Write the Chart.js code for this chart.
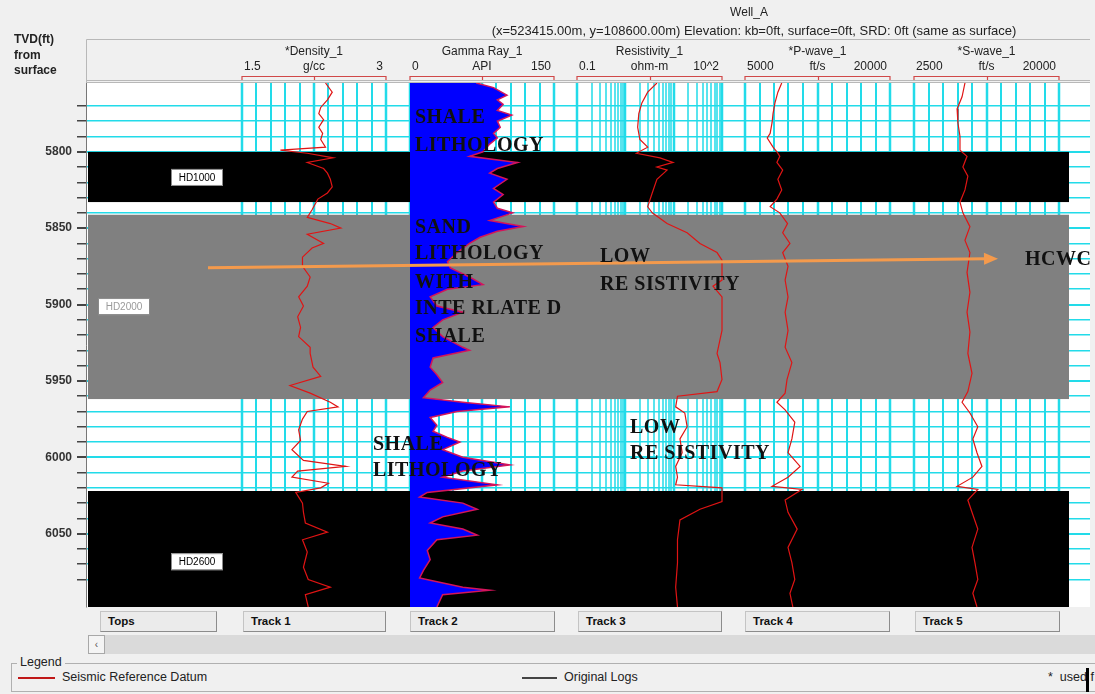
<!DOCTYPE html>
<html>
<head>
<meta charset="utf-8">
<title>Well_A</title>
<script src="https://cdn.jsdelivr.net/npm/chart.js@4.4.1/dist/chart.umd.min.js"></script>
<style>
  html, body { margin: 0; padding: 0; background: #f0f0f0; }
  body { width: 1095px; height: 694px; overflow: hidden; position: relative; font-family: "Liberation Sans", Arial, sans-serif; }
  #logChart { position: absolute; left: 0; top: 0; }
  .btn {
    position: absolute; top: 611px; height: 21px; box-sizing: border-box;
    background: #ebebeb; border: 1px solid #c4c4c4; border-right-color: #8c8c8c; border-bottom-color: #8c8c8c;
    font: bold 11.5px "Liberation Sans", Arial, sans-serif; color: #111; line-height: 19px; padding-left: 7px;
  }
  #scrollLeft { position: absolute; left: 88px; top: 635px; width: 17px; height: 19px; box-sizing: border-box; background: #f4f4f4; border: 1px solid #a8a8a8; font: 10px Arial; color: #555; text-align: center; line-height: 17px; }
  #scrollBar { position: absolute; left: 105px; top: 635px; width: 990px; height: 19px; background: #dadada; }
  #legendBox { position: absolute; left: 11px; top: 663px; width: 1090px; height: 27px; border: 1px solid #b0b0b0; border-right: none; }
  #legendTitle { position: absolute; left: 17px; top: 655px; padding: 0 3px; background: #f0f0f0; font: 12.5px "Liberation Sans", Arial; color: #222; }
  .legLine { position: absolute; top: 677px; height: 2px; }
  .legText { position: absolute; top: 670px; font: 12.5px "Liberation Sans", Arial; color: #222; }
  #endBar { position: absolute; left: 1086px; top: 668px; width: 3px; height: 24px; background: #000; }
</style>
</head>
<body>
<canvas id="logChart" width="1095" height="610"></canvas>

<div class="btn" style="left:100px;width:117px;">Tops</div>
<div class="btn" style="left:243px;width:143px;">Track 1</div>
<div class="btn" style="left:410px;width:145px;">Track 2</div>
<div class="btn" style="left:578px;width:144px;">Track 3</div>
<div class="btn" style="left:745px;width:145px;">Track 4</div>
<div class="btn" style="left:915px;width:145px;">Track 5</div>
<div id="scrollLeft">&lsaquo;</div>
<div id="scrollBar"></div>
<div id="legendBox"></div>
<div id="legendTitle">Legend</div>
<div class="legLine" style="left:18px;width:37px;background:#c01818;"></div>
<div class="legText" style="left:62px;">Seismic Reference Datum</div>
<div class="legLine" style="left:522px;width:35px;background:#444;"></div>
<div class="legText" style="left:564px;">Original Logs</div>
<div class="legText" style="left:1048px;">*&nbsp; used f</div>
<div id="endBar"></div>

<script>
// --- Depth range (TVD ft) ---
const depthTop = 5755;
const depthBottom = 6098;

// --- Formation tops ---
const topsNames = ['HD1000', 'HD2000', 'HD2600'];
const topsTop = [5800, 5841, 6022];
const topsBase = [5833, 5962, 6098];

// --- Track headers ---
const trackNames = ['*Density_1', 'Gamma Ray_1', 'Resistivity_1', '*P-wave_1', '*S-wave_1'];
const trackUnits = ['g/cc', 'API', 'ohm-m', 'ft/s', 'ft/s'];
const trackMin = [1.5, 0, 0.1, 5000, 2500];
const trackMax = [3, 150, 100, 20000, 20000];
const trackMinLabels = ['1.5', '0', '0.1', '5000', '2500'];
const trackMaxLabels = ['3', '150', '10^2', '20000', '20000'];

// --- Logs (depth ft, value) ---
const densityDepth = [5755, 5761, 5766, 5771, 5775, 5779, 5784, 5788, 5792, 5797, 5799, 5801, 5804, 5807, 5811, 5814, 5818, 5823, 5827, 5831, 5838, 5843, 5847, 5850, 5854, 5860, 5863, 5869, 5875, 5882, 5888, 5895, 5901, 5908, 5915, 5921, 5928, 5932, 5941, 5947, 5953, 5958, 5964, 5967, 5970, 5975, 5982, 5989, 5995, 6002, 6006, 6009, 6013, 6017, 6020, 6023, 6030, 6036, 6043, 6049, 6054, 6062, 6072, 6080, 6085, 6090, 6098];
const densityVal = [2.37, 2.44, 2.39, 2.32, 2.30, 2.35, 2.30, 2.34, 2.32, 2.37, 1.90, 2.18, 2.45, 2.18, 2.35, 2.39, 2.42, 2.44, 2.39, 2.29, 2.23, 2.18, 2.42, 2.53, 2.18, 2.35, 2.23, 2.13, 2.13, 2.21, 2.18, 2.09, 2.14, 2.08, 2.11, 2.09, 2.21, 2.21, 2.24, 2.32, 2.00, 2.21, 2.42, 2.50, 2.18, 2.13, 2.09, 2.11, 2.02, 2.14, 2.58, 2.08, 2.02, 2.40, 2.32, 2.06, 2.13, 2.14, 2.16, 2.39, 2.13, 2.18, 2.14, 2.19, 2.42, 2.16, 2.19];

const gammaDepth = [5755, 5758, 5763, 5766, 5769, 5773, 5776, 5780, 5784, 5788, 5791, 5795, 5800, 5803, 5807, 5811, 5814, 5818, 5824, 5828, 5833, 5837, 5840, 5845, 5849, 5852, 5856, 5860, 5866, 5872, 5876, 5882, 5887, 5890, 5895, 5901, 5905, 5910, 5915, 5921, 5928, 5930, 5935, 5941, 5946, 5951, 5956, 5961, 5964, 5967, 5970, 5974, 5979, 5983, 5987, 5990, 5995, 6000, 6005, 6009, 6013, 6018, 6023, 6026, 6030, 6034, 6039, 6043, 6047, 6051, 6054, 6061, 6067, 6074, 6079, 6085, 6087, 6090, 6098];
const gammaVal = [69, 87, 101, 91, 97, 91, 106, 91, 94, 87, 91, 83, 76, 62, 112, 91, 83, 101, 87, 97, 87, 91, 107, 83, 118, 91, 73, 62, 49, 39, 42, 62, 76, 39, 21, 28, 55, 34, 24, 34, 55, 62, 24, 21, 28, 34, 21, 14, 55, 104, 49, 21, 28, 24, 39, 52, 34, 55, 104, 55, 34, 91, 18, 10, 55, 70, 34, 21, 55, 70, 28, 18, 21, 14, 10, 55, 83, 34, 28];

const resDepth = [5755, 5761, 5768, 5775, 5784, 5792, 5797, 5801, 5804, 5807, 5810, 5812, 5818, 5827, 5836, 5840, 5847, 5853, 5860, 5866, 5871, 5884, 5888, 5895, 5917, 5932, 5938, 5949, 5957, 5960, 5967, 5971, 5980, 5988, 5997, 6006, 6013, 6018, 6020, 6029, 6034, 6041, 6054, 6069, 6085, 6098];
const resVal = [4.5, 2.9, 2.2, 1.9, 1.8, 2.0, 2.9, 1.7, 5.2, 9.7, 4.5, 7.3, 4.5, 3.6, 2.9, 3.6, 7.3, 19, 35, 79, 100, 100, 65, 100, 100, 79, 91, 100, 79, 12, 11, 17, 19, 13.5, 15, 11, 12, 11, 100, 100, 35, 13.5, 12, 12, 11, 12];

const pwaveDepth = [5755, 5761, 5768, 5775, 5781, 5788, 5791, 5797, 5800, 5803, 5807, 5812, 5818, 5825, 5831, 5836, 5840, 5847, 5853, 5860, 5866, 5875, 5884, 5895, 5905, 5917, 5928, 5938, 5949, 5958, 5964, 5969, 5977, 5988, 5997, 6006, 6013, 6019, 6021, 6028, 6036, 6047, 6059, 6069, 6080, 6089, 6098];
const pwaveVal = [8800, 8400, 8100, 7900, 7800, 7600, 7300, 7900, 8300, 8600, 8300, 8900, 8400, 8800, 8300, 7600, 8600, 9400, 8900, 9650, 8900, 9450, 9150, 9450, 9150, 9450, 9150, 9850, 9350, 9150, 8300, 9150, 10150, 9850, 9450, 10700, 9450, 7800, 10900, 9150, 9450, 10400, 9450, 9850, 10150, 9650, 9950];

const swaveDepth = [5755, 5764, 5772, 5781, 5790, 5799, 5803, 5810, 5816, 5825, 5833, 5840, 5849, 5858, 5866, 5879, 5892, 5905, 5918, 5932, 5945, 5957, 5964, 5971, 5980, 5988, 5997, 6006, 6013, 6019, 6021, 6028, 6036, 6047, 6059, 6069, 6080, 6089, 6098];
const swaveVal = [8650, 8300, 7700, 7800, 8050, 8050, 8900, 8400, 9000, 8650, 8050, 8400, 9250, 8650, 9250, 8900, 9250, 8900, 9250, 9000, 9500, 9000, 8300, 9250, 10200, 9600, 10100, 10700, 9600, 7700, 10200, 9000, 9500, 10200, 9500, 9850, 10200, 9600, 10100];

// --- Layout / style (pixels) ---
const AREA_L = 86, AREA_R = 1090;
const TRACK_PX = [[242, 386], [410, 554], [577, 722], [745, 890], [914, 1059]];
const BAND_X = [88, 1069];
const TOP_COLORS = ['#000000', '#808080', '#000000'];
const TOP_LABELS = [
  { x: 197, depth: 5816.5, color: '#000' },
  { x: 124, depth: 5901, color: '#9a9a9a' },
  { x: 197, depth: 6068, color: '#000' }
];
const CYAN = '#22dbe9';
const CURVE_RED = '#e01414';
const NOTES = [
  ['SHALE', 415, 5778], ['LITHOLOGY', 415, 5796],
  ['SAND', 415, 5850], ['LITHOLOGY', 415, 5867], ['WITH', 415, 5886], ['INTE RLATE D', 415, 5903], ['SHALE', 415, 5921],
  ['LOW', 600, 5869], ['RE SISTIVITY', 600, 5887],
  ['SHALE', 373, 5992], ['LITHOLOGY', 373, 6009],
  ['LOW', 630, 5981], ['RE SISTIVITY', 630, 5998],
  ['HCWC', 1025, 5871]
];

// x scale for a track so that its range lands on the track's pixel span
function trackScale(i) {
  const [L, R] = TRACK_PX[i];
  const log = i === 2;
  const a = log ? Math.log10(trackMin[i]) : trackMin[i];
  const b = log ? Math.log10(trackMax[i]) : trackMax[i];
  const k = (b - a) / (R - L);
  let min = a - (L - AREA_L) * k;
  let max = b + (AREA_R - R) * k;
  if (log) { min = Math.pow(10, min); max = Math.pow(10, max); }
  return { type: log ? 'logarithmic' : 'linear', axis: 'x', display: false, bounds: 'data', min, max };
}

function curve(depths, values, axisID, extra) {
  return Object.assign({
    data: depths.map((d, i) => ({ x: values[i], y: d })),
    xAxisID: axisID, yAxisID: 'y',
    borderColor: CURVE_RED, borderWidth: 1.2, pointRadius: 0,
    fill: false, tension: 0, order: 1
  }, extra || {});
}

const bandSets = topsNames.map((name, i) => ({
  label: name,
  data: [{ x: BAND_X[1], y: topsTop[i] }, { x: BAND_X[1], y: topsBase[i] }],
  xAxisID: 'frame', yAxisID: 'y',
  borderColor: 'rgba(0,0,0,0)', borderWidth: 0, pointRadius: 0,
  fill: { value: BAND_X[0] }, backgroundColor: TOP_COLORS[i], order: 10
}));

const curveSets = [
  curve(densityDepth, densityVal, 't1'),
  curve(gammaDepth, gammaVal, 't2', { borderColor: '#d4145a', borderWidth: 1.5, fill: { value: 0 }, backgroundColor: '#0000ff' }),
  curve(resDepth, resVal, 't3'),
  curve(pwaveDepth, pwaveVal, 't4'),
  curve(swaveDepth, swaveVal, 't5')
];

// light gray window, white log area
const backgroundPlugin = {
  id: 'background',
  beforeDraw(chart) {
    const { ctx, chartArea: a } = chart;
    ctx.save();
    ctx.fillStyle = '#f0f0f0';
    ctx.fillRect(0, 0, chart.width, chart.height);
    ctx.fillStyle = '#ffffff';
    ctx.fillRect(a.left, a.top, a.right - a.left, a.bottom - a.top);
    ctx.restore();
  }
};

// vertical grid inside each track
const trackGridPlugin = {
  id: 'trackGrid',
  beforeDatasetsDraw(chart) {
    const { ctx, chartArea: a } = chart;
    ctx.save();
    ctx.strokeStyle = CYAN;
    const line = (x, w) => {
      ctx.lineWidth = w;
      ctx.beginPath();
      ctx.moveTo(Math.round(x), a.top);
      ctx.lineTo(Math.round(x), a.bottom);
      ctx.stroke();
    };
    for (let i = 0; i < 5; i++) {
      const s = chart.scales['t' + (i + 1)];
      if (i === 2) {
        for (let d = 0.1; d < 100; d *= 10) {
          for (let m = 1; m < 10; m++) line(s.getPixelForValue(d * m), m === 1 ? 2.5 : 1.5);
        }
        line(s.getPixelForValue(100), 2.5);
      } else {
        const step = (trackMax[i] - trackMin[i]) / 10;
        for (let j = 0; j <= 10; j++) line(s.getPixelForValue(trackMin[i] + j * step), (j % 5 === 0) ? 2.5 : 2);
      }
    }
    ctx.restore();
  }
};

// tops labels, arrow and lithology notes
const annotationPlugin = {
  id: 'notes',
  afterDatasetsDraw(chart) {
    const { ctx } = chart;
    const y = chart.scales.y, f = chart.scales.frame;
    ctx.save();
    ctx.textBaseline = 'middle';
    ctx.textAlign = 'center';
    ctx.font = '10px "Liberation Sans", Arial';
    topsNames.forEach((name, i) => {
      const cx = f.getPixelForValue(TOP_LABELS[i].x);
      const cy = y.getPixelForValue(TOP_LABELS[i].depth);
      ctx.fillStyle = '#fff';
      ctx.fillRect(cx - 26, cy - 8, 52, 17);
      ctx.strokeStyle = '#8a8a8a';
      ctx.lineWidth = 1;
      ctx.strokeRect(cx - 26 + 0.5, cy - 8 + 0.5, 51, 16);
      ctx.fillStyle = TOP_LABELS[i].color;
      ctx.fillText(name, cx, cy + 1);
    });

    // HCWC arrow
    const x0 = f.getPixelForValue(208), y0 = y.getPixelForValue(5876);
    const x1 = f.getPixelForValue(998), y1 = y.getPixelForValue(5870);
    const ang = Math.atan2(y1 - y0, x1 - x0);
    ctx.strokeStyle = '#f49a4c';
    ctx.fillStyle = '#f49a4c';
    ctx.lineWidth = 3;
    ctx.beginPath();
    ctx.moveTo(x0, y0);
    ctx.lineTo(x1 - 12 * Math.cos(ang), y1 - 12 * Math.sin(ang));
    ctx.stroke();
    ctx.beginPath();
    ctx.moveTo(x1, y1);
    ctx.lineTo(x1 - 14 * Math.cos(ang) + 6 * Math.sin(ang), y1 - 14 * Math.sin(ang) - 6 * Math.cos(ang));
    ctx.lineTo(x1 - 14 * Math.cos(ang) - 6 * Math.sin(ang), y1 - 14 * Math.sin(ang) + 6 * Math.cos(ang));
    ctx.closePath();
    ctx.fill();

    ctx.textAlign = 'left';
    ctx.font = 'bold 20px "Liberation Serif", "Times New Roman", serif';
    ctx.letterSpacing = '0.5px';
    ctx.fillStyle = '#111';
    NOTES.forEach(([t, x, d]) => ctx.fillText(t, f.getPixelForValue(x), y.getPixelForValue(d)));
    ctx.restore();
  }
};

// header: well info, track titles, scales
const headerPlugin = {
  id: 'header',
  afterDraw(chart) {
    const { ctx, chartArea: a } = chart;
    ctx.save();
    ctx.fillStyle = '#222';
    ctx.textBaseline = 'middle';
    ctx.textAlign = 'center';
    ctx.font = '12px "Liberation Sans", Arial';
    ctx.fillText('Well_A', 749, 13);
    ctx.font = '13px "Liberation Sans", Arial';
    ctx.fillText('(x=523415.00m, y=108600.00m) Elevation: kb=0ft, surface=0ft, SRD: 0ft (same as surface)', 754, 31);

    ctx.strokeStyle = '#b8b8b8';
    ctx.lineWidth = 1;
    ctx.beginPath();
    ctx.moveTo(a.left + 0.5, a.top - 1);
    ctx.lineTo(a.left + 0.5, 39.5);
    ctx.lineTo(a.right, 39.5);
    ctx.moveTo(a.left, 80.5); ctx.lineTo(a.right, 80.5);
    ctx.moveTo(a.left, 82.5); ctx.lineTo(a.right, 82.5);
    ctx.stroke();

    ctx.textAlign = 'left';
    ctx.font = 'bold 12px "Liberation Sans", Arial';
    ctx.fillText('TVD(ft)', 14, 40);
    ctx.fillText('from', 14, 56);
    ctx.fillText('surface', 14, 71);

    ctx.font = '12px "Liberation Sans", Arial';
    for (let i = 0; i < 5; i++) {
      const s = chart.scales['t' + (i + 1)];
      const L = s.getPixelForValue(trackMin[i]);
      const R = s.getPixelForValue(trackMax[i]);
      const mid = (L + R) / 2;
      ctx.fillStyle = '#222';
      ctx.textAlign = 'center';
      ctx.fillText(trackNames[i], mid, 52);
      ctx.fillText(trackUnits[i], mid, 67);
      ctx.textAlign = 'left';
      ctx.fillText(trackMinLabels[i], L + 2, 67);
      ctx.textAlign = 'right';
      ctx.fillText(trackMaxLabels[i], R - 3, 67);
      ctx.strokeStyle = '#d04848';
      ctx.lineWidth = 1.2;
      ctx.beginPath();
      ctx.moveTo(L, 80); ctx.lineTo(L, 76.5); ctx.lineTo(R, 76.5); ctx.lineTo(R, 80);
      ctx.moveTo(Math.round(mid) + 0.5, 76.5); ctx.lineTo(Math.round(mid) + 0.5, 80);
      ctx.stroke();
    }
    ctx.restore();
  }
};

const scales = {
  y: {
    type: 'linear', position: 'left', reverse: true,
    min: depthTop, max: depthBottom,
    afterFit: (s) => { s.width = AREA_L; s.paddingTop = 0; s.paddingBottom = 0; },
    afterBuildTicks: (s) => { s.ticks = s.ticks.filter(t => Math.round(t.value) % 10 === 0); },
    ticks: {
      stepSize: 10, autoSkip: false, padding: 5, color: '#333',
      font: { family: '"Liberation Sans", Arial', size: 12, weight: 'bold' },
      callback: (v) => (Math.round(v) % 50 === 0 ? String(Math.round(v)) : '')
    },
    grid: {
      color: CYAN, tickColor: '#444', tickLength: 9,
      lineWidth: (c) => (c.tick && Math.round(c.tick.value) % 50 === 0 ? 2 : 1.5)
    },
    border: { display: true, color: '#777' }
  },
  frame: { type: 'linear', axis: 'x', display: false, bounds: 'data', min: AREA_L, max: AREA_R },
  t1: trackScale(0),
  t2: trackScale(1),
  t3: trackScale(2),
  t4: trackScale(3),
  t5: trackScale(4)
};

new Chart(document.getElementById('logChart'), {
  type: 'line',
  data: { datasets: curveSets.concat(bandSets) },
  options: {
    indexAxis: 'y',
    responsive: false,
    animation: false,
    layout: { padding: { left: 0, top: 83, right: 1095 - AREA_R, bottom: 3 } },
    plugins: { legend: { display: false }, tooltip: { enabled: false } },
    scales
  },
  plugins: [backgroundPlugin, trackGridPlugin, annotationPlugin, headerPlugin]
});
</script>
</body>
</html>
